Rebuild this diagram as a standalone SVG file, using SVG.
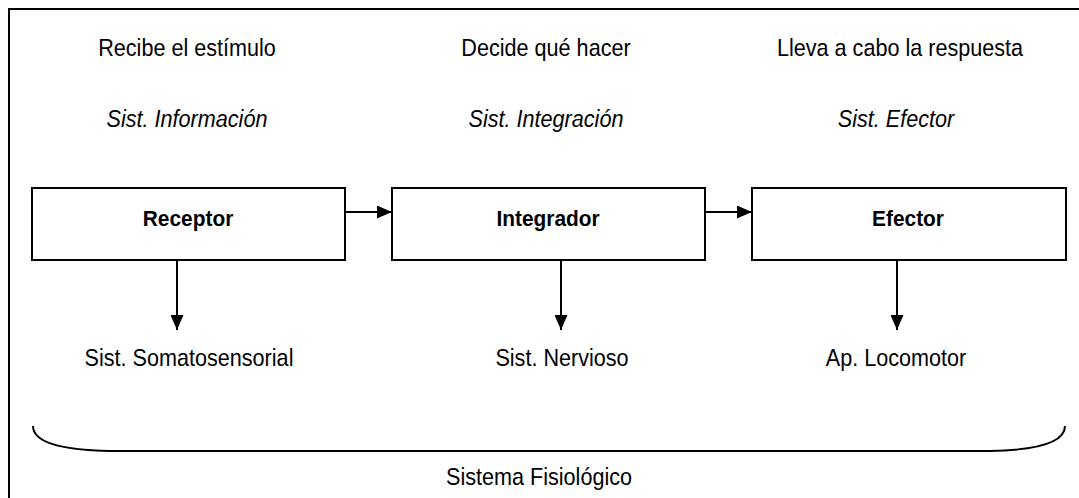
<svg xmlns="http://www.w3.org/2000/svg" width="1079" height="498" viewBox="0 0 1079 498">
<style>
text{font-family:"Liberation Sans",Arial,sans-serif;font-size:24px;fill:#000;text-anchor:middle}
.it{font-style:italic}
.b{font-weight:bold;font-size:22px}
.box{fill:#fff;stroke:#000;stroke-width:2}
.ln{stroke:#000;stroke-width:2;fill:none}
</style>
<defs>
<marker id="ah" viewBox="0 0 15 13" refX="15" refY="6.5" markerWidth="15" markerHeight="13" markerUnits="userSpaceOnUse" orient="auto">
<path d="M0,0 L15,6.5 L0,13 Z" fill="#000"/>
</marker>
</defs>
<rect x="0" y="0" width="1079" height="498" fill="#fff"/>
<rect x="9" y="9" width="1100" height="600" fill="none" stroke="#000" stroke-width="2"/>
<g id="labels-top">
<text transform="translate(187,56) scale(0.9,1)">Recibe el estímulo</text>
<text transform="translate(546,56) scale(0.9,1)">Decide qué hacer</text>
<text transform="translate(900,56) scale(0.9,1)">Lleva a cabo la respuesta</text>
<text class="it" transform="translate(187,127) scale(0.9,1)">Sist. Información</text>
<text class="it" transform="translate(546,127) scale(0.9,1)">Sist. Integración</text>
<text class="it" transform="translate(896,127) scale(0.9,1)">Sist. Efector</text>
</g>
<g id="receptor">
<rect class="box" x="32" y="188" width="313" height="72"/>
<text class="b" transform="translate(188,226) scale(0.95,1)">Receptor</text>
</g>
<g id="integrador">
<rect class="box" x="392" y="188" width="313" height="72"/>
<text class="b" transform="translate(548,226) scale(0.95,1)">Integrador</text>
</g>
<g id="efector">
<rect class="box" x="752" y="188" width="314" height="72"/>
<text class="b" transform="translate(908,226) scale(0.95,1)">Efector</text>
</g>
<g id="connectors">
<line class="ln" x1="345" y1="212" x2="392" y2="212" marker-end="url(#ah)"/>
<line class="ln" x1="705" y1="212" x2="752" y2="212" marker-end="url(#ah)"/>
<line class="ln" x1="177" y1="260" x2="177" y2="330" marker-end="url(#ah)"/>
<line class="ln" x1="561" y1="260" x2="561" y2="330" marker-end="url(#ah)"/>
<line class="ln" x1="897" y1="260" x2="897" y2="330" marker-end="url(#ah)"/>
</g>
<g id="labels-bottom">
<text transform="translate(189,366) scale(0.9,1)">Sist. Somatosensorial</text>
<text transform="translate(562,366) scale(0.9,1)">Sist. Nervioso</text>
<text transform="translate(896,366) scale(0.9,1)">Ap. Locomotor</text>
</g>
<g id="brace">
<path class="ln" d="M33,426 C33,442 60,450 110,451 L990,451 C1040,450 1065,442 1065,426"/>
<text transform="translate(539,485) scale(0.9,1)">Sistema Fisiológico</text>
</g>
</svg>
